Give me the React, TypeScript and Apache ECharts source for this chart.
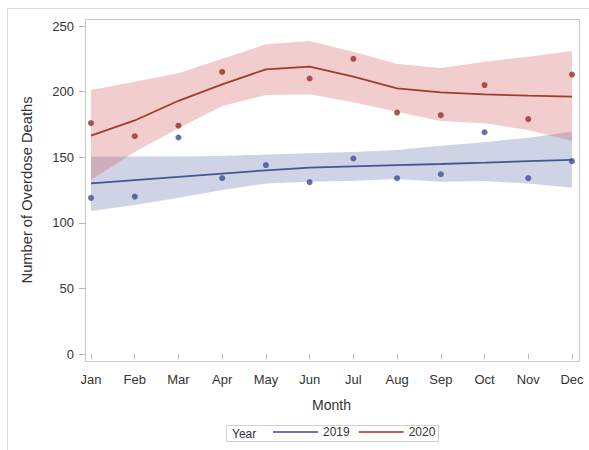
import React, { useEffect, useRef } from "react";
import * as echarts from "echarts";

const months = ["Jan", "Feb", "Mar", "Apr", "May", "Jun", "Jul", "Aug", "Sep", "Oct", "Nov", "Dec"];
const yTicks = [0, 250, 50];

const obs2019 = [119, 120, 165, 134, 144, 131, 149, 134, 137, 169, 134, 147];
const obs2020 = [176, 166, 174, 215, null, 210, 225, 184, 182, 205, 179, 213];

const fit2019 = [130, 132.6, 135, 137.5, 140, 142, 143, 144, 144.8, 145.8, 147, 147.9];
const upper2019 = [150.4, 150.5, 150.5, 151, 152, 153, 154, 155.5, 158.8, 161.3, 164.9, 169.4];
const lower2019 = [109, 113.6, 119, 125, 130, 131.3, 132, 133.4, 131.3, 131.8, 130, 126.8];

const fit2020 = [166.4, 178, 193, 205.5, 217, 219, 211.4, 202.5, 199.4, 197.9, 196.9, 196.1];
const upper2020 = [201.2, 207.5, 213.9, 225, 236, 238.6, 230.4, 221, 218, 222.8, 226.6, 231];
const lower2020 = [132.6, 154, 172, 189, 197.4, 198, 191.8, 184.7, 177.6, 175.8, 170.7, 162.3];

const BLUE = "#445694";
const RED = "#A23A2E";
const FONT = "Liberation Sans, Arial, sans-serif";

export default function App() {
  const ref = useRef<HTMLDivElement>(null);
  useEffect(() => {
    if (!ref.current) return;
    const chart = echarts.init(ref.current, null, { renderer: "svg" });
    const bandSeries = (name: string, lower: number[], upper: number[], color: string, stack: string) => [
      {
        name: name + " lower",
        type: "line",
        stack,
        data: lower,
        symbol: "none",
        lineStyle: { opacity: 0 },
        silent: true,
        z: 1,
      },
      {
        name: name + " band",
        type: "line",
        stack,
        data: upper.map((u, i) => +(u - lower[i]).toFixed(2)),
        symbol: "none",
        lineStyle: { opacity: 0 },
        areaStyle: { color, opacity: 1 },
        silent: true,
        z: 1,
      },
    ];
    chart.setOption({
      animation: false,
      textStyle: { fontFamily: FONT },
      grid: { left: 91, right: 17, top: 26, bottom: 96 },
      xAxis: {
        type: "category",
        data: months,
        boundaryGap: false,
        offset: 8,
        axisLine: { show: false },
        axisTick: { show: true, length: 5, alignWithLabel: true, lineStyle: { color: "#b8b8b8" } },
        axisLabel: { color: "#333", fontSize: 13, margin: 11, interval: 0, fontFamily: FONT },
        splitLine: { show: false },
        name: "Month",
        nameLocation: "middle",
        nameGap: 36,
        nameTextStyle: { color: "#333", fontSize: 14, fontFamily: FONT },
      },
      yAxis: {
        type: "value",
        min: yTicks[0],
        max: yTicks[1],
        interval: yTicks[2],
        offset: 6,
        axisLine: { show: false },
        axisTick: { show: true, length: 6, lineStyle: { color: "#b8b8b8" } },
        axisLabel: { color: "#333", fontSize: 13, margin: 11, fontFamily: FONT },
        splitLine: { show: false },
        name: "Number of Overdose Deaths",
        nameLocation: "middle",
        nameGap: 51,
        nameTextStyle: { color: "#333", fontSize: 14.7, fontFamily: FONT },
      },
      legend: {
        data: [
          { name: "2019", icon: "rect" },
          { name: "2020", icon: "rect" },
        ],
        left: 273,
        top: 426,
        padding: 0,
        itemWidth: 45,
        itemHeight: 2,
        itemGap: 9,
        textStyle: { color: "#333", fontSize: 12, padding: [0, 0, 0, 0], fontFamily: FONT },
        selectedMode: false,
      },
      graphic: [
        { type: "line", shape: { x1: 7, y1: 8.5, x2: 589, y2: 8.5 }, style: { stroke: "#dcdcdc", lineWidth: 1 } },
        { type: "line", shape: { x1: 7.5, y1: 8, x2: 7.5, y2: 450 }, style: { stroke: "#dcdcdc", lineWidth: 1 } },
        {
          type: "rect",
          shape: { x: 85.5, y: 19.5, width: 494, height: 342 },
          style: { fill: "none", stroke: "#c8c8c8", lineWidth: 1 },
        },
        {
          type: "rect",
          shape: { x: 226.5, y: 425.5, width: 212, height: 16 },
          style: { fill: "none", stroke: "#d0d0d0", lineWidth: 1 },
        },
        {
          type: "text",
          x: 232,
          y: 433.5,
          style: { text: "Year", fill: "#333", font: "12px " + FONT, textVerticalAlign: "middle" },
        },
      ],
      series: [
        ...bandSeries("2019", lower2019, upper2019, "rgba(111,126,179,0.34)", "b2019"),
        ...bandSeries("2020", lower2020, upper2020, "rgba(208,91,91,0.3)", "b2020"),
        {
          name: "2019",
          type: "line",
          data: fit2019,
          symbol: "none",
          lineStyle: { color: BLUE, width: 1.8 },
          itemStyle: { color: "#6a78ad" },
          z: 3,
        },
        {
          name: "2020",
          type: "line",
          data: fit2020,
          symbol: "none",
          lineStyle: { color: RED, width: 1.8 },
          itemStyle: { color: "#c75a55" },
          z: 3,
        },
        {
          name: "2019 obs",
          type: "scatter",
          data: obs2019,
          symbolSize: 6,
          itemStyle: { color: "#3b4f92" },
          z: 4,
        },
        {
          name: "2020 obs",
          type: "scatter",
          data: obs2020,
          symbolSize: 6,
          itemStyle: { color: "#93302a" },
          z: 4,
        },
      ],
    });
    return () => chart.dispose();
  }, []);
  return (
    <div
      ref={ref}
      style={{ position: "fixed", left: 0, top: 0, width: 589, height: 450, background: "#fff" }}
    />
  );
}
